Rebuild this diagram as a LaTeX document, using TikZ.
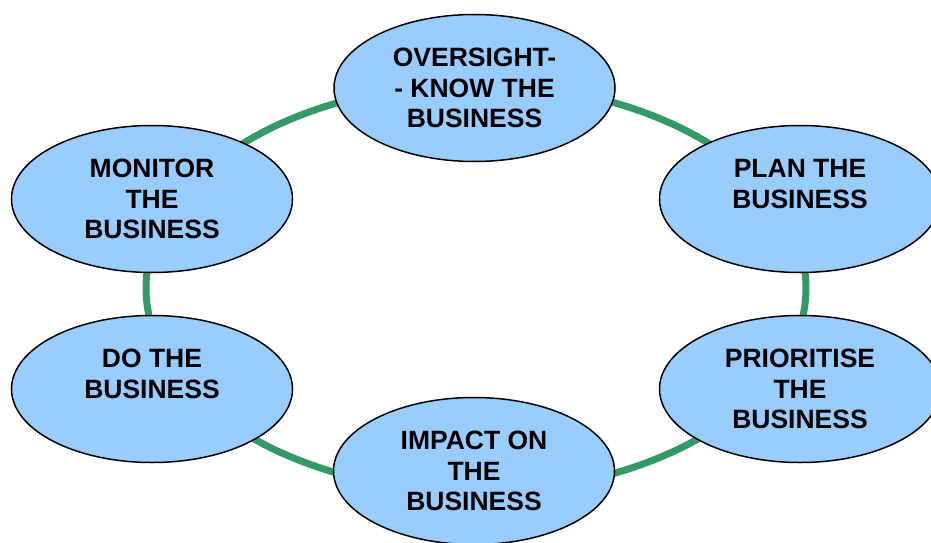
\documentclass[tikz,border=0pt]{standalone}
\usepackage{fontspec}
\setmainfont{Liberation Sans}
\usetikzlibrary{shapes.geometric}
\definecolor{celeste}{HTML}{99CCFF}
\definecolor{verde}{HTML}{339966}

\begin{document}
\begin{tikzpicture}[x=1pt, y=-1pt,
		etapa/.style={ellipse, draw, line width=1.5pt, fill=celeste,
			minimum width=281pt, minimum height=147pt, inner sep=0pt, align=center,
			font=\bfseries\fontsize{26.5}{30.5}\selectfont},
		anillo/.style={verde, line width=7pt}]
		\useasboundingbox (0,0) rectangle (931,543);
		
		% Anillo
		\coordinate (centro) at (476,288);
		\draw[anillo] (centro) ellipse [x radius=330, y radius=204];
		
		% Etapas
		\node[etapa] (ver) at (474.5,88) {OVERSIGHT-\\- KNOW THE\\BUSINESS};
		\node[etapa] (planificar) at (800,199) {PLAN THE\\BUSINESS\\~};
		\node[etapa] (priorizar) at (800,389) {PRIORITISE\\THE\\BUSINESS};
		\node[etapa] (impacto) at (474,471) {IMPACT ON\\THE\\BUSINESS};
		\node[etapa] (hacer) at (152,389) {DO THE\\BUSINESS\\~};
		\node[etapa] (monitorear) at (152,199) {MONITOR\\THE\\BUSINESS};
	\end{tikzpicture}
\end{document}
